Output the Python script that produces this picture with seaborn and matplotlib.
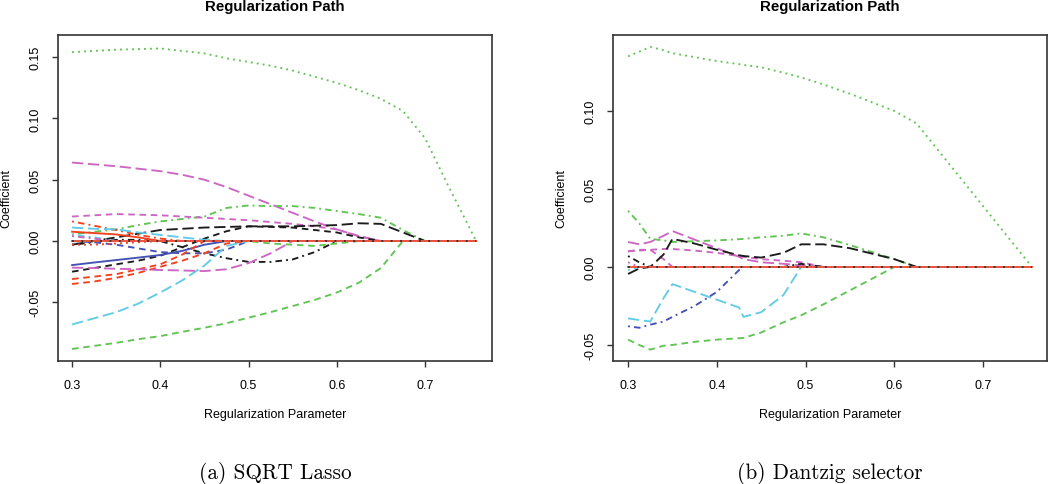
import numpy as np
import pandas as pd
import seaborn as sns
import matplotlib
matplotlib.use('Agg')
import matplotlib.pyplot as plt

# x grids (regularization parameter)
SQRT_X = [0.300, 0.325, 0.350, 0.375, 0.400, 0.425, 0.450, 0.475, 0.500, 0.525,
          0.550, 0.575, 0.600, 0.625, 0.650, 0.675, 0.700, 0.725, 0.758]
DANTZIG_X = [0.300, 0.3125, 0.325, 0.340, 0.350, 0.375, 0.400, 0.425, 0.430,
             0.450, 0.475, 0.495, 0.520, 0.550, 0.600, 0.625, 0.755]

# SQRT Lasso coefficient paths (one list per variable)
sqrt_paths = {
    'green_dot':   [0.154, 0.155, 0.156, 0.1565, 0.157, 0.155, 0.153, 0.149, 0.146, 0.143,
                    0.139, 0.134, 0.129, 0.123, 0.116, 0.106, 0.084, 0.047, 0.0],
    'mag_long':    [0.064, 0.0625, 0.061, 0.059, 0.057, 0.054, 0.050, 0.044, 0.037, 0.030,
                    0.023, 0.016, 0.0095, 0.004, 0.0, 0, 0, 0, 0],
    'green_dd':    [0.0054, 0.0075, 0.0095, 0.013, 0.016, 0.018, 0.020, 0.027, 0.029, 0.0285,
                    0.0285, 0.027, 0.0245, 0.022, 0.019, 0.009, 0.0, 0, 0],
    'mag_dash':    [0.020, 0.021, 0.022, 0.0215, 0.021, 0.020, 0.019, 0.018, 0.017, 0.0155,
                    0.014, 0.012, 0.0095, 0.004, 0.0, 0, 0, 0, 0],
    'black_long':  [-0.003, 0.000, 0.003, 0.006, 0.009, 0.010, 0.011, 0.0115, 0.012, 0.012,
                    0.012, 0.0125, 0.013, 0.0145, 0.014, 0.007, 0.0, 0, 0],
    'black_dash':  [-0.025, -0.022, -0.019, -0.016, -0.012, -0.005, 0.002, 0.008, 0.012, 0.0115,
                    0.011, 0.009, 0.007, 0.003, 0.0, 0, 0, 0, 0],
    'black_dd':    [-0.003, -0.001, 0.001, 0.001, 0.000, -0.005, -0.010, -0.014, -0.017, -0.017,
                    -0.015, -0.009, 0.0, 0, 0, 0, 0, 0, 0],
    'blue_solid':  [-0.0196, -0.0175, -0.0155, -0.0135, -0.0114, -0.008, -0.003, 0.0, 0, 0,
                    0, 0, 0, 0, 0, 0, 0, 0, 0],
    'blue_dash':   [0.0, -0.001, -0.003, -0.006, -0.009, -0.010, -0.010, -0.007, 0.0, 0,
                    0, 0, 0, 0, 0, 0, 0, 0, 0],
    'red_solid':   [0.0076, 0.0065, 0.0054, 0.003, 0.0, 0, 0, 0, 0, 0,
                    0, 0, 0, 0, 0, 0, 0, 0, 0],
    'red_dd':      [0.016, 0.0125, 0.009, 0.005, 0.002, 0.0, 0, 0, 0, 0,
                    0, 0, 0, 0, 0, 0, 0, 0, 0],
    'red_dash1':   [-0.031, -0.029, -0.027, -0.023, -0.019, -0.011, 0.0, 0, 0, 0,
                    0, 0, 0, 0, 0, 0, 0, 0, 0],
    'red_dash2':   [-0.035, -0.033, -0.030, -0.026, -0.021, -0.016, -0.010, -0.002, 0.0, 0,
                    0, 0, 0, 0, 0, 0, 0, 0, 0],
    'red_dot':     [-0.003, -0.003, -0.002, -0.001, 0.0, 0, 0, 0, 0, 0,
                    0, 0, 0, 0, 0, 0, 0, 0, 0],
    'cyan_long':   [-0.068, -0.063, -0.058, -0.051, -0.042, -0.032, -0.020, -0.004, 0.0, 0,
                    0, 0, 0, 0, 0, 0, 0, 0, 0],
    'cyan_long2':  [0.011, 0.010, 0.0095, 0.007, 0.005, 0.003, 0.001, 0.0, 0, 0,
                    0, 0, 0, 0, 0, 0, 0, 0, 0],
    'cyan_dd':     [0.005, 0.003, 0.0, 0, 0, 0, 0, 0, 0, 0,
                    0, 0, 0, 0, 0, 0, 0, 0, 0],
    'mag_long2':   [-0.0217, -0.022, -0.0226, -0.023, -0.0236, -0.024, -0.0245, -0.023, -0.018, -0.010,
                    0.0, 0, 0, 0, 0, 0, 0, 0, 0],
    'green_dash':  [-0.088, -0.0855, -0.083, -0.080, -0.0775, -0.074, -0.0707, -0.067, -0.0625, -0.058,
                    -0.053, -0.048, -0.042, -0.034, -0.022, 0.0, 0, 0, 0],
    'green_dash2': [0, 0, 0, 0, 0, 0, 0, 0, 0.0, -0.002,
                    -0.003, -0.004, -0.002, 0.0, 0, 0, 0, 0, 0],
    'mag_dd':      [0.004, 0.002, 0.0, 0, 0, 0, 0, 0, 0, 0,
                    0, 0, 0, 0, 0, 0, 0, 0, 0],
    'zero_red':    [0.0] * 19,
    'zero_black':  [0.0] * 19,
}

# Dantzig selector coefficient paths
dantzig_paths = {
    'green_dot':   [0.135, 0.138, 0.141, 0.139, 0.137, 0.1345, 0.132, 0.130, 0.1295,
                    0.128, 0.1245, 0.1215, 0.117, 0.111, 0.100, 0.092, 0.0],
    'green_dd':    [0.036, 0.028, 0.018, 0.017, 0.016, 0.0165, 0.017, 0.0178, 0.018,
                    0.019, 0.020, 0.0215, 0.019, 0.014, 0.005, 0.0, 0.0],
    'mag_long':    [0.016, 0.0145, 0.016, 0.020, 0.023, 0.0175, 0.012, 0.0065, 0.005,
                    0.003, 0.002, 0.001, 0.0, 0, 0, 0, 0],
    'mag_dash':    [0.010, 0.0105, 0.011, 0.0115, 0.0115, 0.0105, 0.009, 0.007, 0.0065,
                    0.005, 0.004, 0.003, 0.0, 0, 0, 0, 0],
    'mag_dash2':   [0.010, 0.011, 0.011, 0.005, 0.0, 0, 0, 0, 0,
                    0, 0, 0, 0, 0, 0, 0, 0],
    'black_long':  [-0.0045, -0.001, 0.0, 0.008, 0.018, 0.015, 0.011, 0.0075, 0.007,
                    0.006, 0.009, 0.0145, 0.0145, 0.012, 0.005, 0.0, 0.0],
    'black_dd':    [0.007, 0.003, 0.0, 0, 0, 0, 0, 0, 0,
                    0, 0.0, 0.002, 0.0, 0, 0, 0, 0],
    'cyan_long':   [-0.033, -0.034, -0.035, -0.020, -0.011, -0.016, -0.021, -0.026, -0.032,
                    -0.029, -0.018, 0.0, 0, 0, 0, 0, 0],
    'blue_dd':     [-0.038, -0.039, -0.037, -0.035, -0.032, -0.025, -0.016, -0.002, 0.0,
                    0, 0, 0, 0, 0, 0, 0, 0],
    'green_dash':  [-0.0466, -0.050, -0.053, -0.0505, -0.050, -0.048, -0.0466, -0.0457, -0.0455,
                    -0.042, -0.0355, -0.031, -0.024, -0.015, 0.0, 0, 0],
    'mag_dot':     [0.003, 0.0, 0, 0, 0, 0, 0, 0, 0,
                    0, 0, 0, 0, 0, 0, 0, 0],
    'cyan_dd':     [-0.002, 0.0, 0, 0, 0, 0, 0, 0, 0,
                    0, 0, 0, 0, 0, 0, 0, 0],
    'zero_red':    [0.0] * 17,
    'zero_black':  [0.0] * 17,
}

# R-like colours and line types
COLORS = {'black': '#1c1c1c', 'red': '#f2401f', 'green': '#5fc452',
          'blue': '#4450b4', 'cyan': '#62cbe6', 'mag': '#cc66c2'}
LTY = {'solid': '', 'dash': (3.5, 2.5), 'dot': (1, 2.2), 'dd': (1, 2.2, 3.5, 2.2),
       'long': (6, 2.5)}


def style_of(name):
    if name == 'zero_black':
        return '#333333', (1, 4)
    if name == 'zero_red':
        return '#f0503a', ''
    parts = name.split('_')
    kind = parts[1].rstrip('0123456789')
    return COLORS[parts[0]], LTY[kind]


def draw_panel(ax, xs, paths, yticks, ylim, xlim, caption):
    frames = []
    for name, ys in paths.items():
        frames.append(pd.DataFrame({'x': xs, 'y': ys, 'path': name}))
    df = pd.concat(frames, ignore_index=True)
    names = list(paths.keys())
    pal = {n: style_of(n)[0] for n in names}
    dashes = {n: style_of(n)[1] for n in names}
    sns.lineplot(data=df, x='x', y='y', hue='path', style='path',
                 hue_order=names, style_order=names, palette=pal, dashes=dashes,
                 estimator=None, sort=False, legend=False, lw=1.35, ax=ax)
    ax.set_xlim(*xlim)
    ax.set_ylim(*ylim)
    ax.set_xticks([0.3, 0.4, 0.5, 0.6, 0.7])
    ax.set_xticklabels(['0.3', '0.4', '0.5', '0.6', '0.7'])
    ax.set_yticks(yticks)
    ax.set_yticklabels(['%.2f' % t for t in yticks], rotation=90, va='center')
    ax.tick_params(axis='both', length=4, width=1.0, color='#333333',
                   labelsize=9, pad=8)
    ax.tick_params(axis='x', pad=9)
    for s in ax.spines.values():
        s.set_color('#333333')
        s.set_linewidth(1.2)
    ax.set_xlabel('')
    ax.set_ylabel('')
    ax.text(0.5, 1.09, 'Regularization Path', transform=ax.transAxes,
            ha='center', va='center', fontsize=10.8, fontweight='bold')
    ax.text(-0.118, 0.5, 'Coefficient', transform=ax.transAxes, rotation=90,
            ha='center', va='center', fontsize=9)
    ax.text(0.5, -0.163, 'Regularization Parameter', transform=ax.transAxes,
            ha='center', va='center', fontsize=9)
    ax.text(0.5, -0.343, caption, transform=ax.transAxes, ha='center',
            va='center', fontsize=15.3, family='cmr10')


plt.rcParams['font.family'] = ['Liberation Sans', 'DejaVu Sans']
plt.rcParams['axes.unicode_minus'] = False

fig = plt.figure(figsize=(10.5, 4.85), dpi=100)
ax1 = fig.add_axes([0.0552, 0.2536, 0.4134, 0.6722])
ax2 = fig.add_axes([0.5838, 0.2536, 0.4134, 0.6722])

draw_panel(ax1, SQRT_X, sqrt_paths, [-0.05, 0.0, 0.05, 0.10, 0.15],
           (-0.0978, 0.168), (0.284, 0.776), '(a) SQRT Lasso')
draw_panel(ax2, DANTZIG_X, dantzig_paths, [-0.05, 0.0, 0.05, 0.10],
           (-0.0603, 0.1487), (0.283, 0.772), '(b) Dantzig selector')

fig.savefig('out.png', dpi=100)
